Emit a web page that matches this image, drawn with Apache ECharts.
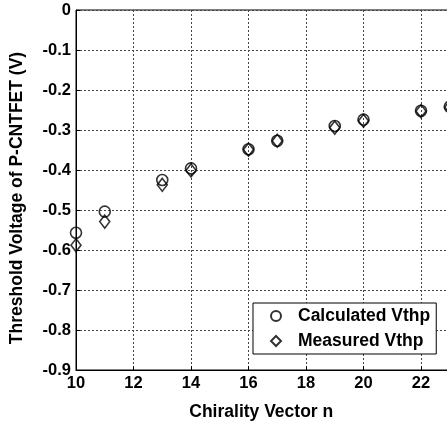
<!DOCTYPE html>
<html>
<head>
<meta charset="utf-8">
<script src="https://cdn.jsdelivr.net/npm/echarts@6/dist/echarts.min.js"></script>
<style>
  html, body { margin: 0; padding: 0; background: #fff; }
  #chart { width: 447px; height: 427px; }
</style>
</head>
<body>
<div id="chart"></div>
<script>
// Chirality vector n and threshold voltages (V)
const chirality = [10, 11, 13, 14, 16, 17, 19, 20, 22, 23];
const calculatedVthp = [-0.557, -0.504, -0.425, -0.396, -0.348, -0.327, -0.290, -0.274, -0.252, -0.242];
const measuredVthp   = [-0.588, -0.529, -0.437, -0.401, -0.349, -0.327, -0.294, -0.277, -0.253, -0.243];
const seriesNames = ['Calculated Vthp', 'Measured Vthp'];

const font = 'Liberation Sans, Arial, sans-serif';
const pairs = (ys) => chirality.map((x, i) => [x, ys[i]]);

const chart = echarts.init(document.getElementById('chart'), null, { renderer: 'canvas' });
chart.setOption({
  animation: false,
  backgroundColor: '#fff',
  grid: {
    left: 76, top: 10, width: 402.5, height: 360,
    outerBoundsMode: 'none', containLabel: false,
    show: true, borderColor: '#000', borderWidth: 1, backgroundColor: 'transparent'
  },
  xAxis: {
    type: 'value', min: 10, max: 24, interval: 2,
    name: 'Chirality Vector n', nameLocation: 'middle', nameGap: 33,
    nameTextStyle: { color: '#000', fontFamily: font, fontWeight: 'bold', fontSize: 17.5, padding: [0, 32, 0, 0] },
    axisLine: { show: true, onZero: false, lineStyle: { color: '#000', width: 1 } },
    axisTick: { show: true, inside: true, length: 4, lineStyle: { color: '#000' } },
    axisLabel: { color: '#000', fontFamily: font, fontWeight: 'bold', fontSize: 16.5, margin: 5 },
    splitLine: { show: true, lineStyle: { color: '#444', width: 1, type: [2, 2] } }
  },
  yAxis: {
    type: 'value', min: -0.9, max: 0, interval: 0.1,
    name: 'Threshold Voltage of P-CNTFET (V)', nameLocation: 'middle', nameGap: 50, nameRotate: 90,
    nameTextStyle: { color: '#000', fontFamily: font, fontWeight: 'bold', fontSize: 17.5, padding: [0, 16, 0, 0] },
    axisLine: { show: true, onZero: false, lineStyle: { color: '#000', width: 1 } },
    axisTick: { show: true, inside: true, length: 4, lineStyle: { color: '#000' } },
    axisLabel: {
      color: '#000', fontFamily: font, fontWeight: 'bold', fontSize: 16.5, margin: 5,
      formatter: (v) => (Math.abs(v) < 1e-9 ? '0' : v.toFixed(1))
    },
    splitLine: { show: true, lineStyle: { color: '#444', width: 1, type: [2, 2] } }
  },
  legend: {
    orient: 'vertical', left: 253, top: 303,
    padding: [4, 6, 4, 17],
    itemGap: 7,
    itemWidth: 10, itemHeight: 10,
    backgroundColor: '#fff', borderColor: '#000', borderWidth: 1,
    textStyle: { color: '#000', fontFamily: font, fontWeight: 'bold', fontSize: 17.5, lineHeight: 18, padding: [0, 0, 0, 12] },
    data: seriesNames
  },
  series: [
    {
      name: seriesNames[0], type: 'scatter', symbol: 'circle', symbolSize: 11,
      itemStyle: { color: 'rgba(255,255,255,0)', borderColor: '#000', borderWidth: 1.6 },
      data: pairs(calculatedVthp), clip: false
    },
    {
      name: seriesNames[1], type: 'scatter', symbol: 'diamond', symbolSize: [10, 13],
      itemStyle: { color: 'rgba(255,255,255,0)', borderColor: '#000', borderWidth: 1.6 },
      data: pairs(measuredVthp), clip: false
    }
  ]
});
</script>
</body>
</html>
